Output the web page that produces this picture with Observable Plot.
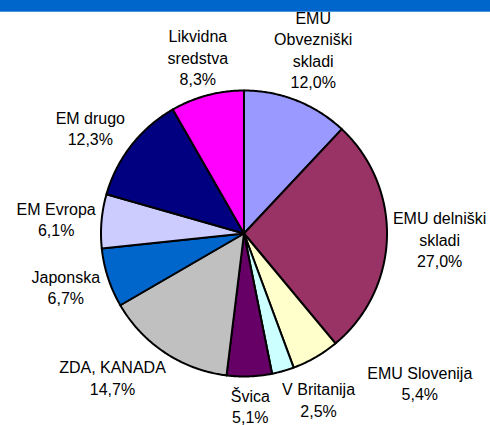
<!DOCTYPE html>
<html>
<head>
<meta charset="utf-8">
<script src="https://cdn.jsdelivr.net/npm/d3@7"></script>
<script src="https://cdn.jsdelivr.net/npm/@observablehq/plot@0.6"></script>
<style>
  html, body { margin: 0; padding: 0; background: #fff; }
  #bar { height: 12px; background: #0066CC; border-bottom: 1px solid #4d94db; box-sizing: border-box; }
  #chart svg { display: block; overflow: visible; }
</style>
</head>
<body>
<div id="bar"></div>
<div id="chart"></div>
<script>
// ---- data ----
const categories = [
  "EMU\nObvezniški\nskladi",
  "EMU delniški\nskladi",
  "EMU Slovenija",
  "V Britanija",
  "Švica",
  "ZDA, KANADA",
  "Japonska",
  "EM Evropa",
  "EM drugo",
  "Likvidna\nsredstva"
];
const values = [12.0, 27.0, 5.4, 2.5, 5.1, 14.7, 6.7, 6.1, 12.3, 8.3];
const colors = ["#9999FF", "#993366", "#FFFFCC", "#CCFFFF", "#660066",
                "#C0C0C0", "#0066CC", "#CCCCFF", "#000080", "#FF00FF"];

// ---- layout ----
const W = 490, H = 413;
const cx = 243.5, cy = 221, R = 143;
const pad = 6, fs = 16, lineH = 21.5, gapX = 12, gapY = 2, clear = 148;
const font = "'Liberation Sans', Arial, Helvetica, sans-serif";

const pie = d3.pie().sort(null).value(d => d.value)(categories.map((c, i) => ({cat: c, value: values[i]})));

// slice outlines (center -> arc -> center)
const pts = [];
pie.forEach(s => {
  const cat = s.data.cat;
  pts.push({cat, x: 0, y: 0});
  const n = Math.max(2, Math.ceil((s.endAngle - s.startAngle) / (Math.PI / 360)));
  for (let k = 0; k <= n; k++) {
    const a = s.startAngle + (s.endAngle - s.startAngle) * k / n;
    pts.push({cat, x: Math.sin(a), y: Math.cos(a)});
  }
  pts.push({cat, x: 0, y: 0});
});

// labels: natural position outside the slice's mid-angle
const ctx = document.createElement("canvas").getContext("2d");
ctx.font = `${fs}px ${font}`;
const labels = pie.map(s => {
  const text = s.data.cat + "\n" + s.data.value.toFixed(1).replace(".", ",") + "%";
  const lines = text.split("\n");
  const w = Math.max(...lines.map(l => ctx.measureText(l).width));
  const hp = lines.length * lineH + 3;          // box used for placement
  const h = (lines.length - 1) * lineH + 14;    // tight text box
  const a = (s.startAngle + s.endAngle) / 2;
  const ax = cx + (R + pad) * Math.sin(a), ay = cy - (R + pad) * Math.cos(a);
  return {text, w, h, bx: ax + Math.sin(a) * w / 2, by: ay - Math.cos(a) * hp / 2};
});
const ext = l => ({x0: l.bx - l.w / 2, x1: l.bx + l.w / 2, y0: l.by - l.h / 2, y1: l.by + l.h / 2});
function hitsPie(l) {
  const b = ext(l);
  const nx = Math.max(b.x0, Math.min(cx, b.x1)), ny = Math.max(b.y0, Math.min(cy, b.y1));
  return Math.hypot(nx - cx, ny - cy) < clear;
}
function hitsLabel(l, o) {
  const a = ext(l), b = ext(o);
  return a.x0 < b.x1 + gapX && b.x0 < a.x1 + gapX && a.y0 < b.y1 + gapY && b.y0 < a.y1 + gapY;
}
// place labels from the last slice backwards, shifting them on collisions
const placed = [];
for (let i = labels.length - 1; i >= 0; i--) {
  const l = labels[i];
  for (let it = 0; it < 400; it++) {
    let moved = false;
    if (hitsPie(l)) {
      if (Math.abs(l.bx - cx) < R * 0.5) l.by += l.by >= cy ? 0.5 : -0.5;
      else l.bx += l.bx >= cx ? 0.5 : -0.5;
      moved = true;
    }
    for (const o of placed) {
      if (hitsLabel(l, o)) { l.bx += l.bx >= o.bx ? 0.5 : -0.5; moved = true; }
    }
    if (!moved) break;
  }
  placed.push(l);
}
labels.forEach(l => { l.x = (l.bx - cx) / R; l.y = (cy - l.by) / R; });

const chart = Plot.plot({
  width: W, height: H, margin: 0,
  x: {domain: [-1, 1], range: [cx - R, cx + R], axis: null},
  y: {domain: [-1, 1], range: [cy + R, cy - R], axis: null},
  color: {domain: categories, range: colors},
  style: {fontFamily: font, fontSize: fs + "px", background: "#fff", color: "#000"},
  marks: [
    Plot.line(pts, {x: "x", y: "y", z: "cat", fill: "cat", stroke: "#000", strokeWidth: 2, strokeLinejoin: "round"}),
    Plot.text(labels, {x: "x", y: "y", text: "text", fontSize: fs, lineHeight: lineH / fs,
                       textAnchor: "middle", lineAnchor: "middle", fill: "#000"})
  ]
});
document.getElementById("chart").appendChild(chart);
</script>
</body>
</html>
